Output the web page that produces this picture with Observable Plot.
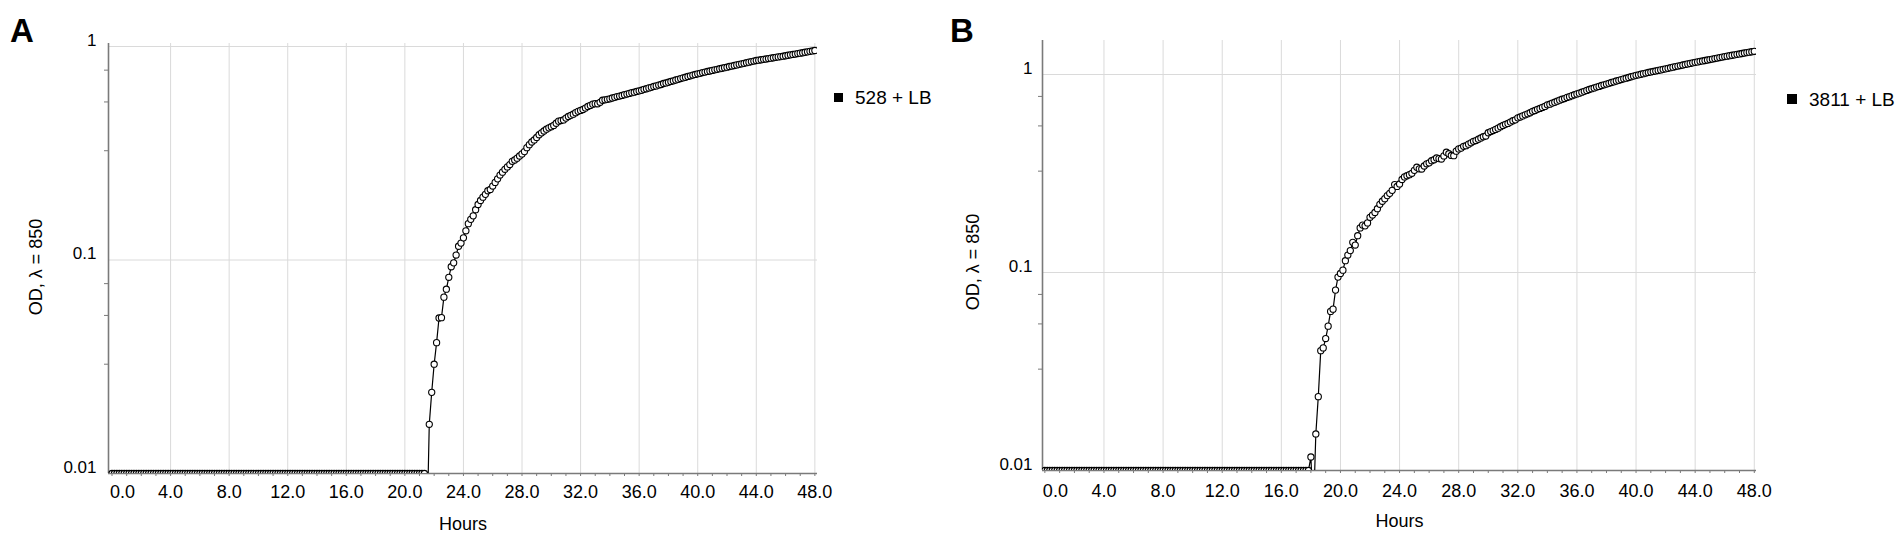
<!DOCTYPE html>
<html>
<head>
<meta charset="utf-8">
<script src="https://cdn.jsdelivr.net/npm/d3@7"></script>
<script src="https://cdn.jsdelivr.net/npm/@observablehq/plot@0.6"></script>
<style>
  body { margin: 0; background: #fff; font-family: "Liberation Sans", Arial, sans-serif; color: #000; }
  #wrap { position: relative; width: 1904px; height: 537px; overflow: hidden; background: #fff; }
  .panel { position: absolute; top: 0; width: 952px; height: 537px; }
  .letter { position: absolute; font-weight: bold; font-size: 33px; line-height: 1; }
  .ytitle { position: absolute; font-size: 18px; line-height: 1; white-space: nowrap; transform: translate(-50%, -50%) rotate(-90deg); }
  .legtext { position: absolute; font-size: 19px; line-height: 1; white-space: nowrap; }
  .sw { position: absolute; background: #000; }
</style>
</head>
<body>
<div id="wrap"></div>
<script>
// ---------------- data ----------------
const STEP_MIN = 10; // one reading every 10 minutes, from 0 h to 48 h

// Panel A: 528 + LB (OD at 850 nm), one row per hour (6 readings per row)
const OD_528 = [
  0.01,0.01,0.01,0.01,0.01,0.01, // 0
  0.01,0.01,0.01,0.01,0.01,0.01, // 1
  0.01,0.01,0.01,0.01,0.01,0.01, // 2
  0.01,0.01,0.01,0.01,0.01,0.01, // 3
  0.01,0.01,0.01,0.01,0.01,0.01, // 4
  0.01,0.01,0.01,0.01,0.01,0.01, // 5
  0.01,0.01,0.01,0.01,0.01,0.01, // 6
  0.01,0.01,0.01,0.01,0.01,0.01, // 7
  0.01,0.01,0.01,0.01,0.01,0.01, // 8
  0.01,0.01,0.01,0.01,0.01,0.01, // 9
  0.01,0.01,0.01,0.01,0.01,0.01, // 10
  0.01,0.01,0.01,0.01,0.01,0.01, // 11
  0.01,0.01,0.01,0.01,0.01,0.01, // 12
  0.01,0.01,0.01,0.01,0.01,0.01, // 13
  0.01,0.01,0.01,0.01,0.01,0.01, // 14
  0.01,0.01,0.01,0.01,0.01,0.01, // 15
  0.01,0.01,0.01,0.01,0.01,0.01, // 16
  0.01,0.01,0.01,0.01,0.01,0.01, // 17
  0.01,0.01,0.01,0.01,0.01,0.01, // 18
  0.01,0.01,0.01,0.01,0.01,0.01, // 19
  0.01,0.01,0.01,0.01,0.01,0.01, // 20
  0.01,0.01,0.01,0.005,0.017,0.024, // 21
  0.0325,0.041,0.0535,0.0537,0.067,0.073, // 22
  0.083,0.093,0.097,0.1055,0.116,0.120, // 23
  0.127,0.137,0.148,0.155,0.161,0.172, // 24
  0.182,0.190,0.197,0.203,0.211,0.214, // 25
  0.222,0.231,0.240,0.250,0.258,0.266, // 26
  0.273,0.280,0.290,0.294,0.300,0.307, // 27
  0.314,0.322,0.336,0.347,0.357,0.365, // 28
  0.375,0.386,0.394,0.402,0.410,0.416, // 29
  0.421,0.427,0.437,0.447,0.450,0.453, // 30
  0.462,0.470,0.476,0.482,0.490,0.497, // 31
  0.502,0.507,0.515,0.524,0.530,0.537, // 32
  0.540,0.539,0.548,0.560,0.563,0.566, // 33
  0.569,0.574,0.578,0.583,0.586,0.590, // 34
  0.595,0.599,0.603,0.608,0.611,0.616, // 35
  0.620,0.624,0.630,0.634,0.640,0.644, // 36
  0.650,0.654,0.660,0.664,0.671,0.675, // 37
  0.680,0.686,0.691,0.697,0.702,0.708, // 38
  0.713,0.718,0.724,0.729,0.735,0.740, // 39
  0.745,0.749,0.755,0.759,0.764,0.768, // 40
  0.773,0.778,0.782,0.787,0.791,0.796, // 41
  0.800,0.806,0.810,0.815,0.820,0.825, // 42
  0.830,0.834,0.840,0.845,0.850,0.855, // 43
  0.860,0.863,0.867,0.871,0.874,0.878, // 44
  0.882,0.886,0.890,0.894,0.897,0.901, // 45
  0.905,0.910,0.914,0.918,0.922,0.927, // 46
  0.931,0.935,0.940,0.944,0.949,0.953, // 47
  0.958                                 // 48
];

// Panel B: 3811 + LB
const OD_3811 = [
  0.01,0.01,0.01,0.01,0.01,0.01, // 0
  0.01,0.01,0.01,0.01,0.01,0.01, // 1
  0.01,0.01,0.01,0.01,0.01,0.01, // 2
  0.01,0.01,0.01,0.01,0.01,0.01, // 3
  0.01,0.01,0.01,0.01,0.01,0.01, // 4
  0.01,0.01,0.01,0.01,0.01,0.01, // 5
  0.01,0.01,0.01,0.01,0.01,0.01, // 6
  0.01,0.01,0.01,0.01,0.01,0.01, // 7
  0.01,0.01,0.01,0.01,0.01,0.01, // 8
  0.01,0.01,0.01,0.01,0.01,0.01, // 9
  0.01,0.01,0.01,0.01,0.01,0.01, // 10
  0.01,0.01,0.01,0.01,0.01,0.01, // 11
  0.01,0.01,0.01,0.01,0.01,0.01, // 12
  0.01,0.01,0.01,0.01,0.01,0.01, // 13
  0.01,0.01,0.01,0.01,0.01,0.01, // 14
  0.01,0.01,0.01,0.01,0.01,0.01, // 15
  0.01,0.01,0.01,0.01,0.01,0.01, // 16
  0.01,0.01,0.01,0.01,0.01,0.01, // 17
  0.0117,0.006,0.0153,0.0236,0.0403,0.0416, // 18
  0.0464,0.0536,0.0636,0.0653,0.0815,0.0948, // 19
  0.0989,0.1028,0.1147,0.1225,0.129,0.142, // 20
  0.1376,0.1534,0.168,0.1735,0.172,0.178, // 21
  0.190,0.195,0.201,0.210,0.221,0.229, // 22
  0.236,0.2445,0.251,0.260,0.278,0.272, // 23
  0.280,0.295,0.304,0.308,0.312,0.317, // 24
  0.328,0.340,0.334,0.333,0.345,0.354, // 25
  0.358,0.367,0.371,0.379,0.376,0.374, // 26
  0.388,0.405,0.398,0.390,0.389,0.410, // 27
  0.421,0.425,0.434,0.437,0.445,0.452, // 28
  0.460,0.464,0.471,0.478,0.485,0.489, // 29
  0.508,0.515,0.521,0.528,0.536,0.545, // 30
  0.553,0.560,0.566,0.575,0.584,0.590, // 31
  0.604,0.610,0.618,0.626,0.633,0.641, // 32
  0.652,0.658,0.667,0.674,0.682,0.690, // 33
  0.703,0.708,0.717,0.724,0.733,0.742, // 34
  0.750,0.756,0.766,0.773,0.782,0.790, // 35
  0.798,0.805,0.814,0.822,0.831,0.840, // 36
  0.848,0.855,0.864,0.871,0.880,0.887, // 37
  0.895,0.903,0.911,0.918,0.927,0.935, // 38
  0.943,0.951,0.958,0.966,0.974,0.982, // 39
  0.990,0.996,1.003,1.010,1.017,1.024, // 40
  1.030,1.036,1.042,1.049,1.055,1.062, // 41
  1.068,1.075,1.082,1.089,1.097,1.103, // 42
  1.110,1.117,1.124,1.131,1.138,1.145, // 43
  1.152,1.158,1.165,1.171,1.177,1.184, // 44
  1.190,1.197,1.204,1.211,1.218,1.225, // 45
  1.232,1.238,1.245,1.251,1.257,1.264, // 46
  1.270,1.277,1.284,1.290,1.297,1.303, // 47
  1.310                                 // 48
];

const X_LABEL_TICKS = [4, 8, 12, 16, 20, 24, 28, 32, 36, 40, 44, 48];
const X_FIRST_TICK = [0];
const X_MINOR_TICKS = [0,1,2,3,4,5,6,7,8,9,10,11,12,13,14,15,16,17,18,19,20,21,22,23,24,
                       25,26,27,28,29,30,31,32,33,34,35,36,37,38,39,40,41,42,43,44,45,46,47,48];
const Y_MAJOR_TICKS = [0.01, 0.1, 1];
const Y_GRID = [0.1, 1];
const Y_MINOR_TICKS = [0.0325, 0.055, 0.0775, 0.325, 0.55, 0.775];
const X_TITLE = "Hours";
const Y_TITLE = "OD, λ = 850";
const SERIES_A = "528 + LB";
const SERIES_B = "3811 + LB";

// ---------------- drawing ----------------
const AXIS = "#7a7a7a";
const GRID = "#dadada";

function panel(cfg) {
  const data = cfg.values.map((v, i) => ({ t: i * STEP_MIN / 60, v }));
  return Plot.plot({
    width: 952,
    height: 537,
    marginTop: cfg.mt, marginBottom: cfg.mb, marginLeft: cfg.ml, marginRight: cfg.mr,
    style: { fontFamily: "'Liberation Sans', Arial, sans-serif", color: "#000", background: "#fff", overflow: "visible" },
    x: { domain: cfg.xDomain, label: null },
    y: { type: "log", domain: cfg.yDomain, label: null },
    marks: [
      Plot.gridX(X_LABEL_TICKS, { stroke: GRID, strokeOpacity: 1, strokeWidth: 1 }),
      Plot.gridY(Y_GRID, { stroke: GRID, strokeOpacity: 1, strokeWidth: 1 }),
      Plot.axisY(Y_MINOR_TICKS, { tickSize: 4, text: null, stroke: AXIS, label: null }),
      Plot.axisY(Y_MAJOR_TICKS, { tickSize: 0, tickPadding: cfg.yPad, fontSize: 17, dy: -6,
                                  tickFormat: d => String(d), label: null }),
      Plot.axisX(X_MINOR_TICKS, { tickSize: 3, text: null, stroke: AXIS, label: null }),
      Plot.axisX(X_LABEL_TICKS, { tickSize: 0, tickPadding: cfg.xPad, fontSize: 18,
                                  tickFormat: d => d.toFixed(1), label: null }),
      Plot.axisX(X_FIRST_TICK, { tickSize: 0, tickPadding: cfg.xPad, fontSize: 18, textAnchor: "start", dx: -2,
                                 tickFormat: d => d.toFixed(1), label: null }),
      Plot.ruleX([cfg.xDomain[0]], { stroke: AXIS, strokeWidth: 1.6 }),
      Plot.ruleY([cfg.yDomain[0]], { stroke: AXIS, strokeWidth: 1.6 }),
      Plot.line(data, { x: "t", y: "v", stroke: "#000", strokeWidth: 1.2, clip: true }),
      Plot.dot(data, { x: "t", y: "v", r: 3.1, fill: "#fff", stroke: "#000", strokeWidth: 1.1, clip: true }),
      Plot.text([X_TITLE], { text: d => d, frameAnchor: "bottom", lineAnchor: "top", dy: 44, fontSize: 18, fill: "#000" })
    ]
  });
}

const wrap = document.getElementById("wrap");

function addPanel(left, cfg, letter, ytitle, legend) {
  const div = document.createElement("div");
  div.className = "panel";
  div.style.left = left + "px";
  div.appendChild(panel(cfg));
  wrap.appendChild(div);

  const L = document.createElement("div");
  L.className = "letter";
  L.textContent = letter.text;
  L.style.left = letter.x + "px";
  L.style.top = letter.y + "px";
  wrap.appendChild(L);

  const T = document.createElement("div");
  T.className = "ytitle";
  T.textContent = Y_TITLE;
  T.style.left = ytitle.x + "px";
  T.style.top = ytitle.y + "px";
  wrap.appendChild(T);

  const S = document.createElement("div");
  S.className = "sw";
  S.style.left = legend.sx + "px";
  S.style.top = legend.sy + "px";
  S.style.width = legend.ss + "px";
  S.style.height = legend.ss + "px";
  wrap.appendChild(S);

  const LT = document.createElement("div");
  LT.className = "legtext";
  LT.textContent = legend.text;
  LT.style.left = legend.tx + "px";
  LT.style.top = legend.ty + "px";
  wrap.appendChild(LT);
}

addPanel(0, {
  values: OD_528, xDomain: [-0.24, 48.18], yDomain: [0.01, 1.033],
  mt: 43, mb: 64, ml: 108, mr: 135, xPad: 12, yPad: 12
}, { text: "A", x: 10, y: 14 }, { x: 36, y: 267 },
   { sx: 834, sy: 93, ss: 9, tx: 855, ty: 88, text: SERIES_A });

addPanel(952, {
  values: OD_3811, xDomain: [-0.16, 48.15], yDomain: [0.01, 1.485],
  mt: 40, mb: 67, ml: 90, mr: 148, xPad: 14, yPad: 10
}, { text: "B", x: 950, y: 14 }, { x: 973, y: 262 },
   { sx: 1787, sy: 94, ss: 10, tx: 1809, ty: 90, text: SERIES_B });
</script>
</body>
</html>
